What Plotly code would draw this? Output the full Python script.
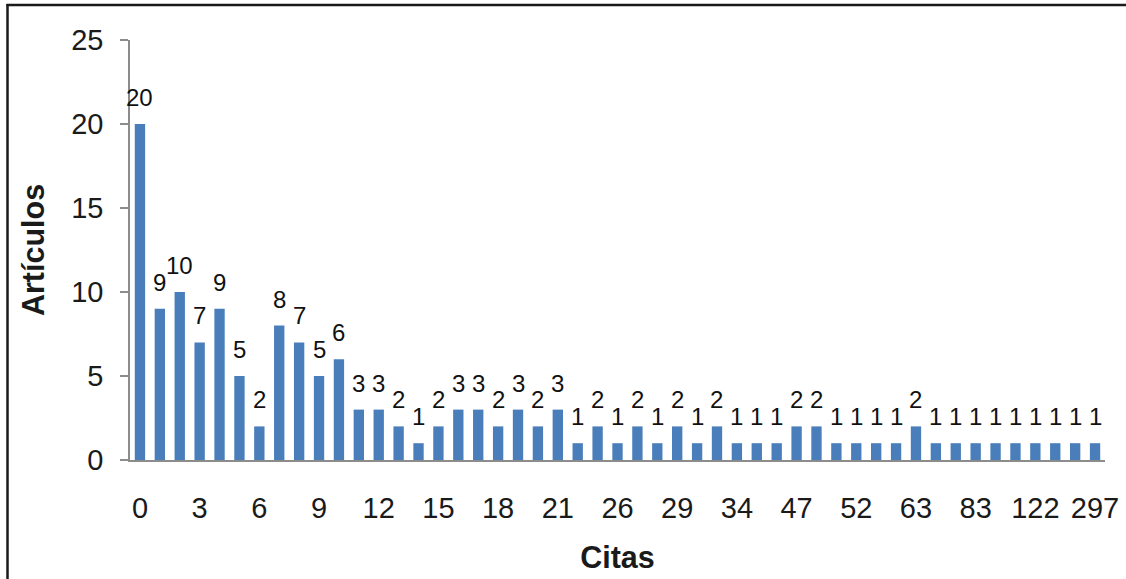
import plotly.graph_objects as go

citas = ["0","1","2","3","4","5","6","7","8","9","10","11","12","13","14","15","16","17","18","19","20","21",
         "22","24","26","27","28","29","31","32","34","38","42","47","49","50","52","55","58","63","68","75",
         "83","95","110","122","150","200","297"]
articulos = [20,9,10,7,9,5,2,8,7,5,6,3,3,2,1,2,3,3,2,3,2,3,
             1,2,1,2,1,2,1,2,1,1,1,2,2,1,1,1,1,2,1,1,1,1,1,1,1,1,1]
shown_ticks = ["0","3","6","9","12","15","18","21","26","29","34","47","52","63","83","122","297"]

W, H = 1126, 579
L, R, T, B = 130, 21, 39.5, 119
pw, ph = W - L - R, H - T - B

def px(x):
    return (x - L) / pw

def py(y):
    return (H - B - y) / ph

idx = list(range(len(citas)))

fig = go.Figure()
fig.add_trace(go.Bar(x=idx, y=articulos, marker=dict(color="#4A7EBB", line=dict(width=0)),
                     customdata=citas, hovertemplate="Citas %{customdata}: %{y}<extra></extra>"))

for i, v in zip(idx, articulos):
    fig.add_annotation(x=i, y=v, text=str(v), showarrow=False, yanchor="bottom",
                       yshift=11, font=dict(family="Liberation Sans, Arial", size=24, color="#111111"))

# outer frame (left and top edges)
fig.add_shape(type="line", xref="paper", yref="paper", x0=px(6.5), x1=px(1130), y0=py(4.5), y1=py(4.5),
              line=dict(color="#1a1a1a", width=2.5))
fig.add_shape(type="line", xref="paper", yref="paper", x0=px(7.5), x1=px(7.5), y0=py(3.5), y1=py(590),
              line=dict(color="#1a1a1a", width=2.5))

tickvals = [citas.index(t) for t in shown_ticks]

fig.update_layout(
    width=W, height=H,
    margin=dict(l=L, r=R, t=T, b=B, pad=0, autoexpand=False),
    paper_bgcolor="white", plot_bgcolor="white",
    bargap=0.48,
    showlegend=False,
    font=dict(family="Liberation Sans, Arial", color="#1a1a1a"),
    xaxis=dict(
        automargin=False,
        range=[-0.5, len(citas) - 0.5],
        tickmode="array", tickvals=tickvals, ticktext=shown_ticks,
        showline=True, linecolor="#8c8c8c", linewidth=1.5,
        ticks="", showgrid=False, zeroline=False,
        tickfont=dict(size=29, color="#1a1a1a"),
        ticklabelstandoff=21,
        tickangle=0,
        title=dict(text="<b>Citas</b>", font=dict(size=30.5, color="#1a1a1a"), standoff=24),
    ),
    yaxis=dict(
        automargin=False,
        range=[0, 25], tickvals=[0, 5, 10, 15, 20, 25],
        showline=True, linecolor="#8c8c8c", linewidth=1.5,
        ticks="outside", ticklen=8, tickcolor="#8c8c8c", tickwidth=1.5,
        showgrid=False, zeroline=False,
        tickfont=dict(size=29, color="#1a1a1a"),
        ticklabelstandoff=11,
        title=dict(text="<b>Artículos</b>", font=dict(size=30.5, color="#1a1a1a"), standoff=18),
    ),
)

fig.write_html("out.html", post_script="document.body.style.margin='0';",
               config={"displayModeBar": False})
